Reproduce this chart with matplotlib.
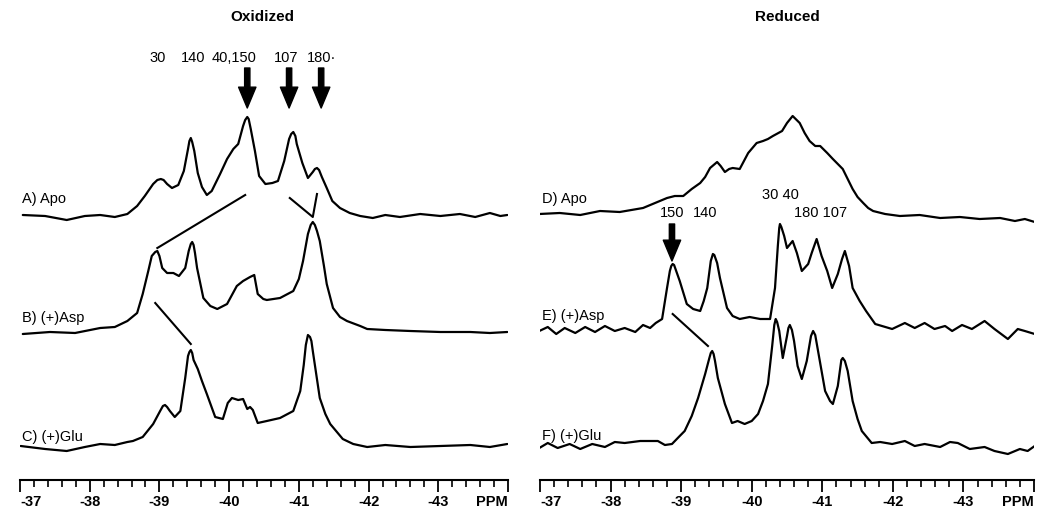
import matplotlib
matplotlib.use("Agg")
import matplotlib.pyplot as plt
from matplotlib.ticker import FixedLocator, MultipleLocator

plt.rcParams["font.family"] = ["Liberation Sans", "DejaVu Sans"]

# ---- spectra: chemical shift (ppm) and intensity (a.u.) ----
# Oxidized
A_ppm = [-37.04, -37.36, -37.67, -37.93, -38.15, -38.36, -38.54, -38.68, -38.79, -38.91,
         -38.97, -39.02, -39.06, -39.11, -39.18, -39.27, -39.35, -39.41, -39.43, -39.45,
         -39.47, -39.50, -39.55, -39.61, -39.68, -39.75, -39.87, -39.97, -40.06, -40.13,
         -40.20, -40.23, -40.26, -40.28, -40.31, -40.37, -40.43, -40.52, -40.62, -40.70,
         -40.79, -40.86, -40.89, -40.92, -40.95, -40.97, -41.05, -41.13, -41.20, -41.23,
         -41.26, -41.29, -41.33, -41.40, -41.48, -41.59, -41.73, -41.88, -42.06, -42.24,
         -42.45, -42.74, -43.03, -43.31, -43.53, -43.74, -43.89, -43.99]
A_int = [0, -1, -5, -1, 0, -2, 1, 9, 19, 31,
         35, 36, 35, 31, 27, 30, 44, 66, 74, 77,
         73, 64, 42, 28, 20, 24, 41, 56, 66, 71,
         89, 95, 98, 96, 86, 64, 39, 31, 32, 34,
         54, 76, 81, 83, 79, 71, 52, 37, 43, 46,
         47, 45, 38, 27, 14, 7, 2, -1, -3, 0,
         -2, 1, -1, 1, -2, 2, -1, 0]

B_ppm = [-37.04, -37.43, -37.79, -38.15, -38.36, -38.54, -38.68, -38.76, -38.84, -38.89,
         -38.94, -38.97, -39.00, -39.04, -39.11, -39.20, -39.28, -39.37, -39.42, -39.45,
         -39.47, -39.49, -39.51, -39.54, -39.63, -39.73, -39.83, -39.97, -40.11, -40.20,
         -40.30, -40.36, -40.41, -40.49, -40.54, -40.73, -40.92, -41.00, -41.06, -41.13,
         -41.17, -41.20, -41.23, -41.26, -41.30, -41.36, -41.40, -41.49, -41.59, -41.69,
         -41.88, -41.98, -42.24, -42.60, -43.03, -43.46, -43.74, -43.99]
B_int = [-2, 0, -1, 4, 5, 11, 19, 38, 61, 76,
         80, 81, 76, 64, 59, 59, 56, 64, 81, 88,
         90, 87, 79, 64, 34, 26, 23, 28, 46, 51,
         55, 57, 38, 33, 32, 34, 41, 53, 71, 98,
         107, 110, 107, 101, 91, 66, 48, 24, 15, 11,
         6, 3, 2, 1, 0, 0, -1, 0]

C_ppm = [-37.01, -37.36, -37.67, -37.93, -38.15, -38.36, -38.54, -38.62, -38.76, -38.91,
         -39.01, -39.05, -39.08, -39.11, -39.15, -39.22, -39.30, -39.37, -39.41, -39.43,
         -39.45, -39.47, -39.49, -39.55, -39.61, -39.68, -39.80, -39.91, -39.98, -40.04,
         -40.13, -40.20, -40.26, -40.30, -40.34, -40.41, -40.54, -40.73, -40.92, -41.02,
         -41.07, -41.10, -41.13, -41.16, -41.18, -41.20, -41.30, -41.38, -41.45, -41.63,
         -41.78, -41.98, -42.24, -42.60, -43.03, -43.46, -43.74, -43.99]
C_int = [-1, -4, -6, -2, 1, 0, 3, 4, 8, 21,
         34, 39, 40, 38, 34, 28, 34, 67, 89, 93,
         95, 92, 85, 76, 64, 51, 28, 26, 42, 47,
         45, 46, 36, 38, 35, 22, 24, 27, 34, 54,
         80, 100, 110, 108, 104, 94, 47, 31, 21, 6,
         1, -2, 0, -2, -1, 0, -2, 1]

# Reduced
D_ppm = [-36.99, -37.28, -37.57, -37.85, -38.13, -38.46, -38.63, -38.80, -38.91, -39.03,
         -39.15, -39.27, -39.34, -39.41, -39.51, -39.56, -39.62, -39.68, -39.73, -39.83,
         -39.95, -40.07, -40.16, -40.23, -40.30, -40.43, -40.50, -40.58, -40.68, -40.75,
         -40.82, -40.90, -40.97, -41.07, -41.15, -41.29, -41.36, -41.43, -41.50, -41.58,
         -41.65, -41.72, -41.89, -42.10, -42.38, -42.67, -42.95, -43.23, -43.52, -43.73,
         -43.87, -44.01]
D_int = [-1, 0, -2, 2, 1, 5, 10, 15, 17, 17,
         24, 30, 36, 45, 51, 47, 41, 44, 45, 44,
         60, 70, 72, 74, 77, 82, 90, 97, 90, 80,
         72, 67, 67, 60, 54, 44, 34, 24, 16, 10,
         5, 2, -1, -3, -2, -5, -4, -6, -5, -8,
         -6, -9]

E_ppm = [-36.99, -37.11, -37.23, -37.35, -37.50, -37.64, -37.78, -37.92, -38.06, -38.20,
         -38.35, -38.46, -38.56, -38.64, -38.73, -38.80, -38.84, -38.86, -38.88, -38.90,
         -38.93, -38.98, -39.08, -39.17, -39.27, -39.32, -39.37, -39.42, -39.45, -39.47,
         -39.51, -39.55, -39.65, -39.73, -39.83, -39.97, -40.12, -40.26, -40.33, -40.37,
         -40.39, -40.40, -40.42, -40.46, -40.50, -40.58, -40.64, -40.71, -40.80, -40.85,
         -40.92, -40.99, -41.07, -41.14, -41.22, -41.28, -41.32, -41.38, -41.43, -41.53,
         -41.62, -41.75, -41.99, -42.17, -42.31, -42.45, -42.59, -42.74, -42.84, -42.98,
         -43.12, -43.30, -43.44, -43.63, -43.77, -43.87, -44.01]
E_int = [0, 4, -3, 3, -2, 4, -1, 5, 0, 3,
         -1, 6, 3, 8, 12, 43, 60, 65, 67, 66,
         60, 50, 27, 22, 20, 30, 43, 70, 77, 76,
         68, 53, 23, 15, 12, 14, 12, 12, 43, 85,
         103, 107, 104, 95, 83, 90, 78, 60, 67, 78,
         92, 75, 60, 43, 57, 72, 80, 65, 43, 30,
         20, 7, 2, 8, 3, 8, 2, 5, 0, 6,
         2, 10, 2, -8, 2, 0, -3]

F_ppm = [-36.99, -37.11, -37.25, -37.42, -37.57, -37.74, -37.92, -38.06, -38.20, -38.42,
         -38.67, -38.77, -38.87, -38.98, -39.05, -39.15, -39.24, -39.34, -39.40, -39.42,
         -39.44, -39.46, -39.48, -39.52, -39.62, -39.72, -39.80, -39.90, -40.00, -40.09,
         -40.16, -40.23, -40.29, -40.32, -40.34, -40.36, -40.39, -40.44, -40.50, -40.52,
         -40.54, -40.57, -40.60, -40.65, -40.71, -40.78, -40.84, -40.87, -40.90, -40.94,
         -41.04, -41.11, -41.15, -41.22, -41.27, -41.29, -41.32, -41.36, -41.43, -41.50,
         -41.56, -41.70, -41.82, -41.99, -42.17, -42.31, -42.45, -42.67, -42.81, -42.92,
         -43.09, -43.30, -43.44, -43.63, -43.80, -43.91, -44.01]
F_int = [-3, 2, -3, 1, -4, 1, -2, 3, 2, 4,
         4, 0, 1, 9, 14, 29, 47, 71, 87, 92,
         94, 91, 84, 67, 41, 22, 24, 21, 24, 31,
         44, 61, 99, 120, 126, 123, 114, 87, 109, 117,
         120, 115, 104, 79, 66, 84, 109, 114, 110, 94,
         54, 44, 41, 59, 85, 87, 84, 74, 44, 26,
         14, 2, 3, 1, 4, -1, 1, -2, 3, 2,
         -4, -2, -6, -9, -4, -6, -1]

# vertical offsets of each trace's baseline above the ppm scale
offsets_ox = [265, 148, 35]
offsets_red = [267, 149, 35]
names_ox = ["A) Apo", "B) (+)Asp", "C) (+)Glu"]
names_red = ["D) Apo", "E) (+)Asp", "F) (+)Glu"]

# peak assignments
peaks_ox = ["30", "140", "40,150", "107", "180\u00b7"]
peaks_ox_ppm = [-38.98, -39.48, -40.07, -40.82, -41.32]
arrows_ox_ppm = [-40.26, -40.86, -41.32]
peaks_red = ["150", "140", "30 40", "180 107"]
peaks_red_ppm = [-38.87, -39.34, -40.40, -40.97]
arrows_red_ppm = [-38.87]

major_ppm = [-37, -38, -39, -40, -41, -42, -43, -44]
major_lbl = ["-37", "-38", "-39", "-40", "-41", "-42", "-43", "PPM"]


def setup_scale(ax):
    ax.set_xlim(-37, -44)
    ax.set_ylim(0, 479)
    for s in ["top", "left", "right"]:
        ax.spines[s].set_visible(False)
    ax.spines["bottom"].set_linewidth(1.5)
    ax.set_yticks([])
    ax.xaxis.set_major_locator(FixedLocator(major_ppm))
    ax.set_xticklabels(major_lbl, fontsize=10.5, fontweight="bold")
    ax.xaxis.set_minor_locator(MultipleLocator(0.2))
    ax.tick_params(axis="x", which="major", length=8.5, width=1.3, pad=2.5)
    ax.tick_params(axis="x", which="minor", length=5, width=1.2)
    lbls = ax.get_xticklabels()
    lbls[0].set_ha("left")
    lbls[-1].set_ha("right")
    ax.patch.set_visible(False)


def arrow(ax, x, top, tip):
    ax.annotate("", xy=(x, tip), xytext=(x, top),
                arrowprops=dict(arrowstyle="simple,head_width=1.25,head_length=1.5,tail_width=0.38",
                                color="k", shrinkA=0, shrinkB=0, mutation_scale=10))


fig = plt.figure(figsize=(10.5, 5.22), dpi=100)
ax1 = fig.add_axes([20 / 1050, 42 / 522, 488 / 1050, 479 / 522])
ax2 = fig.add_axes([540 / 1050, 42 / 522, 494 / 1050, 479 / 522])

# ---- oxidized panel ----
for ppm, inten, off in zip([A_ppm, B_ppm, C_ppm], [A_int, B_int, C_int], offsets_ox):
    ax1.plot(ppm, [v + off for v in inten], color="k", lw=1.6,
             solid_joinstyle="round", solid_capstyle="round")
for name, y in zip(names_ox, [281, 162, 43]):
    ax1.text(-37.03, y, name, fontsize=10.5, ha="left", va="center")
ax1.text(-40.47, 463, "Oxidized", fontsize=11, fontweight="bold", ha="center", va="center")
for t, x in zip(peaks_ox, peaks_ox_ppm):
    ax1.text(x, 422, t, fontsize=10.5, ha="center", va="center")
for x in arrows_ox_ppm:
    arrow(ax1, x, 412, 372)
# connecting lines between shifted peaks
ax1.plot([-38.97, -40.23], [232, 285], color="k", lw=1.5)
ax1.plot([-40.87, -41.20, -41.26], [282, 263, 286], color="k", lw=1.5)
ax1.plot([-38.94, -39.45], [177, 136], color="k", lw=1.5)
setup_scale(ax1)

# ---- reduced panel ----
for ppm, inten, off in zip([D_ppm, E_ppm, F_ppm], [D_int, E_int, F_int], offsets_red):
    ax2.plot(ppm, [v + off for v in inten], color="k", lw=1.6,
             solid_joinstyle="round", solid_capstyle="round")
for name, y in zip(names_red, [281, 164, 44]):
    ax2.text(-37.03, y, name, fontsize=10.5, ha="left", va="center")
ax2.text(-40.50, 463, "Reduced", fontsize=11, fontweight="bold", ha="center", va="center")
for t, x, y in zip(peaks_red, peaks_red_ppm, [267, 267, 285, 267]):
    ax2.text(x, y, t, fontsize=10.5, ha="center", va="center")
for x in arrows_red_ppm:
    arrow(ax2, x, 256, 219)
ax2.plot([-38.88, -39.38], [166, 134], color="k", lw=1.5)
setup_scale(ax2)

fig.savefig("out.png", dpi=100)
